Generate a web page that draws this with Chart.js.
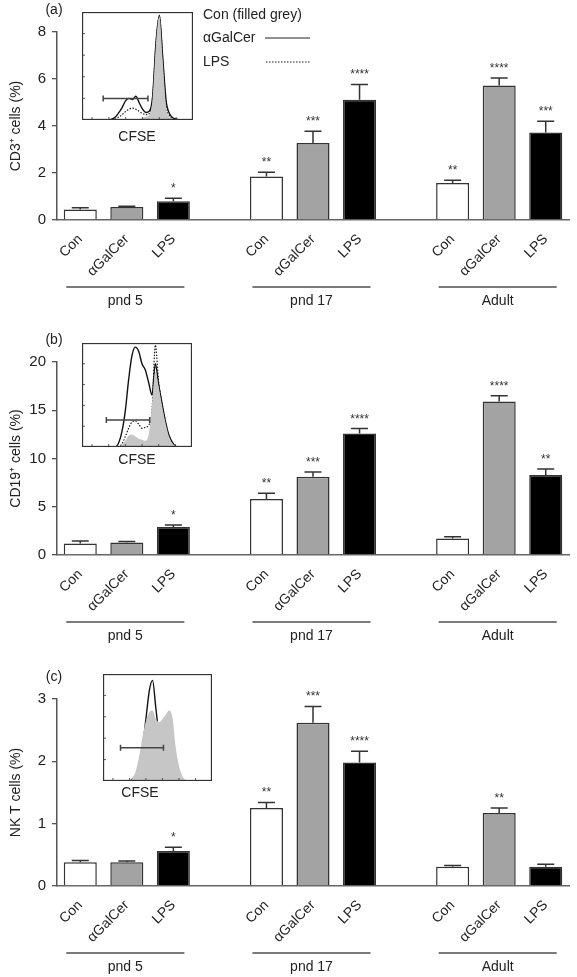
<!DOCTYPE html>
<html>
<head>
<meta charset="utf-8">
<script src="https://cdn.jsdelivr.net/npm/chart.js@4.4.0/dist/chart.umd.min.js"></script>
<style>
body { margin: 0; background: #fff; }
#wrap { position: relative; width: 577px; height: 977px; }
canvas { position: absolute; }
</style>
</head>
<body>
<div id="wrap">
  <canvas id="panelA" width="577" height="322" style="left:0;top:0"></canvas>
  <canvas id="panelB" width="577" height="328" style="left:0;top:322px"></canvas>
  <canvas id="panelC" width="577" height="327" style="left:0;top:650px"></canvas>
  <canvas id="insetA" width="111" height="108" style="left:82px;top:12px"></canvas>
  <canvas id="insetB" width="110" height="104" style="left:82px;top:343px"></canvas>
  <canvas id="insetC" width="109" height="107" style="left:103px;top:674px"></canvas>
</div>
<script>
var FONT = '"Liberation Sans", Arial, sans-serif';
var treatments = ['Con', 'αGalCer', 'LPS'];
var ages = ['pnd 5', 'pnd 17', 'Adult'];
var barFills = ['#ffffff', '#a3a3a3', '#000000'];

// (a) CD3+ cells (%) - mean, sem, significance
var cd3Mean = [0.45, 0.55, 0.80, 1.85, 3.28, 5.12, 1.57, 5.72, 3.72];
var cd3Sem = [0.07, 0.04, 0.13, 0.18, 0.50, 0.65, 0.12, 0.32, 0.48];
var cd3Stars = ['', '', '*', '**', '***', '****', '**', '****', '***'];

// (b) CD19+ cells (%)
var cd19Mean = [1.2, 1.3, 2.9, 5.8, 8.1, 12.6, 1.7, 15.9, 8.3];
var cd19Sem = [0.25, 0.1, 0.2, 0.6, 0.5, 0.5, 0.2, 0.6, 0.6];
var cd19Stars = ['', '', '*', '**', '***', '****', '', '****', '**'];

// (c) NK T cells (%)
var nktMean = [0.38, 0.38, 0.56, 1.25, 2.62, 1.98, 0.31, 1.17, 0.31];
var nktSem = [0.03, 0.02, 0.06, 0.09, 0.26, 0.18, 0.02, 0.08, 0.04];
var nktStars = ['', '', '*', '**', '***', '****', '', '**', ''];

// CFSE histograms for the insets (34 bins, % of max)
var histA_con = [0,0,0,0,0,0,0,0,0,0,0,0,0,0,0,0,1,1,2,3,5,20,70,96,55,12,3,1,0,0,0,0,0,0];
var histA_gal = [0,0,0,0,0,0,0,0,0,1,3,7,12,18,20,19,22,16,10,7,8,22,72,97,58,18,6,2,1,0,0,0,0,0];
var histA_lps = [0,0,0,0,0,0,0,0,0,0,1,3,5,8,10,11,10,8,6,5,6,21,71,96,56,14,4,1,0,0,0,0,0,0];
var gateA = [6.3, 19.6, 20];

var histB_con = [0,0,0,0,0,0,0,0,0,0,0,0,2,6,11,12,10,8,7,6,12,40,72,58,40,24,11,4,1,0,0,0,0,0];
var histB_gal = [0,0,0,0,0,0,0,0,0,0,0,4,15,35,65,88,96,92,80,74,62,50,80,60,42,25,12,5,1,0,0,0,0,0];
var histB_lps = [0,0,0,0,0,0,0,0,0,0,0,0,3,10,18,24,25,22,18,19,21,35,98,62,42,25,12,5,1,0,0,0,0,0];
var gateB = [7.3, 20.3, 26];

var histC_con = [0,0,0,0,0,0,0,0,0,3,10,24,42,56,64,66,58,55,58,62,66,60,32,14,5,1,0,0,0,0,0,0,0,0];
var histC_gal = [0,0,0,0,0,0,0,0,0,2,6,14,32,58,84,94,68,42,28,30,27,18,8,2,0,0,0,0,0,0,0,0,0,0];
var gateC = [5.3, 18.3, 31];

// put a blank slot between the age groups
function withGaps(arr) {
  var out = [];
  ages.forEach(function (a, g) {
    for (var k = 0; k < 3; k++) out.push(arr[g * 3 + k]);
    if (g < ages.length - 1) out.push(null);
  });
  return out;
}

var slotLabels = withGaps([].concat(treatments, treatments, treatments)).map(function (l) { return l || ''; });
var slotFills = withGaps([].concat(barFills, barFills, barFills)).map(function (c) { return c || '#fff'; });

function makePanel(id, opts) {
  var mean = withGaps(opts.mean), sem = withGaps(opts.sem), stars = withGaps(opts.stars);

  var extras = {
    id: 'extras',
    afterDatasetsDraw: function (chart) {
      var ctx = chart.ctx, ys = chart.scales.y, xs = chart.scales.x;
      var meta = chart.getDatasetMeta(0);
      ctx.save();
      ctx.strokeStyle = '#333';
      ctx.lineWidth = 1.5;
      ctx.fillStyle = '#333';
      ctx.font = '12px ' + FONT;
      ctx.textAlign = 'center';
      ctx.textBaseline = 'alphabetic';
      meta.data.forEach(function (bar, i) {
        if (mean[i] == null) return;
        var yTop = ys.getPixelForValue(mean[i] + sem[i]);
        ctx.beginPath();
        ctx.moveTo(bar.x, bar.y);
        ctx.lineTo(bar.x, yTop);
        ctx.moveTo(bar.x - 8.5, yTop);
        ctx.lineTo(bar.x + 8.5, yTop);
        ctx.stroke();
        if (stars[i]) ctx.fillText(stars[i], bar.x, yTop - 6);
      });

      // age group lines + names
      var bottom = chart.chartArea.bottom;
      ctx.strokeStyle = '#7a7a7a';
      ctx.lineWidth = 2;
      ctx.fillStyle = '#222';
      ctx.font = '14px ' + FONT;
      ctx.textBaseline = 'middle';
      ages.forEach(function (name, g) {
        var x0 = xs.getPixelForValue(g * 4) - 14;
        var x1 = xs.getPixelForValue(g * 4 + 2) + 11;
        ctx.beginPath();
        ctx.moveTo(x0, bottom + 67);
        ctx.lineTo(x1, bottom + 67);
        ctx.stroke();
        ctx.fillText(name, (x0 + x1) / 2, bottom + 81);
      });

      // panel tag
      ctx.font = '14px ' + FONT;
      ctx.fillText(opts.tag, 54, chart.chartArea.top - 22);

      // CFSE label under inset
      ctx.fillText('CFSE', opts.cfse[0], opts.cfse[1]);

      if (opts.legend) {
        ctx.textAlign = 'left';
        ctx.fillText('Con (filled grey)', 203, 15);
        ctx.fillText('αGalCer', 203, 38);
        ctx.fillText('LPS', 203, 62);
        ctx.strokeStyle = '#222';
        ctx.lineWidth = 1.2;
        ctx.beginPath();
        ctx.moveTo(265, 38); ctx.lineTo(310, 38);
        ctx.stroke();
        ctx.setLineDash([1.5, 1.5]);
        ctx.beginPath();
        ctx.moveTo(266, 62); ctx.lineTo(310, 62);
        ctx.stroke();
      }
      ctx.restore();
    }
  };

  return new Chart(document.getElementById(id), {
    type: 'bar',
    data: {
      labels: slotLabels,
      datasets: [{
        data: mean,
        backgroundColor: slotFills,
        borderColor: '#333',
        borderWidth: 1.5,
        barPercentage: 0.71,
        categoryPercentage: 1
      }]
    },
    options: {
      responsive: false,
      animation: false,
      layout: { padding: { top: opts.top, right: 8, left: 0, bottom: 0 } },
      plugins: { legend: { display: false }, tooltip: { enabled: false } },
      scales: {
        x: {
          grid: { display: false },
          border: { display: true, color: '#666', width: 1.5 },
          ticks: {
            autoSkip: false, minRotation: 45, maxRotation: 45, padding: 3,
            color: '#222', font: { family: FONT, size: 14 }
          },
          afterFit: function (s) { s.height = opts.axisH; }
        },
        y: {
          min: 0, max: opts.max,
          grid: { drawOnChartArea: false, drawTicks: true, tickLength: 5, color: '#555', lineWidth: 1.3 },
          border: { display: true, color: '#555', width: 1.5 },
          ticks: { stepSize: opts.step, padding: 6, color: '#222', font: { family: FONT, size: 15 } },
          title: {
            display: true, text: opts.title, color: '#222',
            font: { family: FONT, size: 14 }, padding: { top: 8, bottom: 0 }
          },
          afterFit: function (s) { s.width = 57; }
        }
      }
    },
    plugins: [extras]
  });
}

makePanel('panelA', {
  mean: cd3Mean, sem: cd3Sem, stars: cd3Stars, max: 8, step: 2,
  title: 'CD3⁺ cells (%)', tag: '(a)', top: 32, axisH: 102,
  cfse: [137, 137], legend: true
});
makePanel('panelB', {
  mean: cd19Mean, sem: cd19Sem, stars: cd19Stars, max: 20, step: 5,
  title: 'CD19⁺ cells (%)', tag: '(b)', top: 40, axisH: 95,
  cfse: [137, 138]
});
makePanel('panelC', {
  mean: nktMean, sem: nktSem, stars: nktStars, max: 3, step: 1,
  title: 'NK T cells (%)', tag: '(c)', top: 49, axisH: 91,
  cfse: [140, 143]
});

function toXY(bins) {
  return bins.map(function (v, i) { return { x: i, y: v }; });
}

function makeInset(id, con, gal, lps, gate) {
  var sets = [{
    data: toXY(con), fill: 'origin', backgroundColor: '#c6c6c6',
    borderWidth: 0, pointRadius: 0, cubicInterpolationMode: 'monotone'
  }];
  if (gal) sets.push({
    data: toXY(gal), fill: false, borderColor: '#111', borderWidth: 1.4,
    pointRadius: 0, cubicInterpolationMode: 'monotone'
  });
  if (lps) sets.push({
    data: toXY(lps), fill: false, borderColor: '#222', borderWidth: 1.2,
    borderDash: [1.5, 1.5], pointRadius: 0, cubicInterpolationMode: 'monotone'
  });

  var frame = {
    id: 'frame',
    afterDatasetsDraw: function (chart) {
      var ctx = chart.ctx, a = chart.chartArea, xs = chart.scales.x, ys = chart.scales.y;
      ctx.save();
      ctx.strokeStyle = '#333';
      ctx.lineWidth = 1.3;
      ctx.strokeRect(a.left + 0.5, a.top + 0.5, a.right - a.left - 1, a.bottom - a.top - 1);
      ctx.lineWidth = 0.8;
      ctx.beginPath();
      for (var v = 20; v < 100; v += 20) {
        var y = ys.getPixelForValue(v);
        ctx.moveTo(a.left, y); ctx.lineTo(a.left + 3, y);
      }
      for (var t = 3; t < 33; t += 5) {
        var x = xs.getPixelForValue(t);
        ctx.moveTo(x, a.bottom); ctx.lineTo(x, a.bottom - 3);
      }
      ctx.stroke();
      // gate
      var gx0 = xs.getPixelForValue(gate[0]), gx1 = xs.getPixelForValue(gate[1]), gy = ys.getPixelForValue(gate[2]);
      ctx.strokeStyle = '#444';
      ctx.lineWidth = 1.5;
      ctx.beginPath();
      ctx.moveTo(gx0, gy); ctx.lineTo(gx1, gy);
      ctx.moveTo(gx0, gy - 3); ctx.lineTo(gx0, gy + 3);
      ctx.moveTo(gx1, gy - 3); ctx.lineTo(gx1, gy + 3);
      ctx.stroke();
      ctx.restore();
    }
  };

  return new Chart(document.getElementById(id), {
    type: 'line',
    data: { datasets: sets },
    options: {
      responsive: false,
      animation: false,
      layout: { padding: 0 },
      plugins: { legend: { display: false }, tooltip: { enabled: false } },
      scales: {
        x: { type: 'linear', min: 0, max: 33, display: false },
        y: { min: 0, max: 100, display: false }
      }
    },
    plugins: [frame]
  });
}

makeInset('insetA', histA_con, histA_gal, histA_lps, gateA);
makeInset('insetB', histB_con, histB_gal, histB_lps, gateB);
makeInset('insetC', histC_con, histC_gal, null, gateC);
</script>
</body>
</html>
